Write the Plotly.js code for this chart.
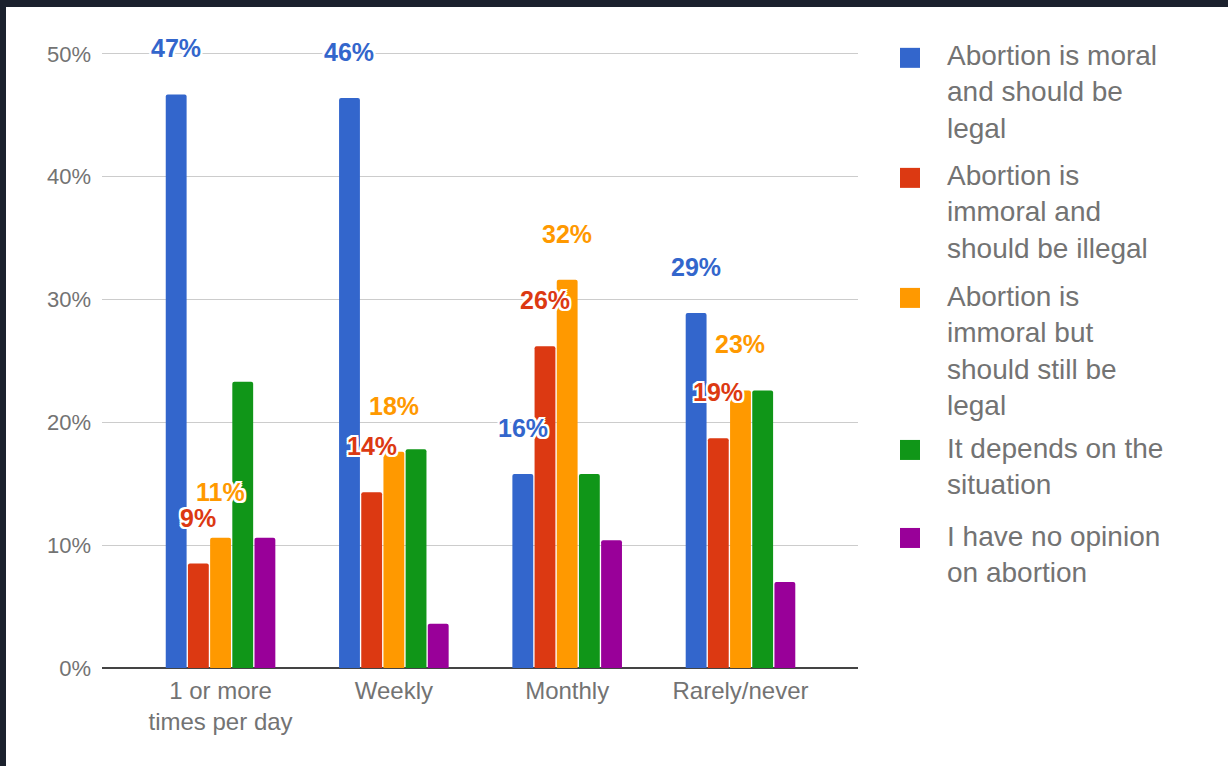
<!DOCTYPE html>
<html>
<head>
<meta charset="utf-8">
<script src="https://cdn.plot.ly/plotly-3.0.1.min.js"></script>
<style>
  html, body { margin: 0; padding: 0; background: #1b212d; width: 1228px; height: 766px; overflow: hidden; }
  #chart { position: absolute; left: 6px; top: 7px; width: 1222px; height: 759px; background: #fff; }
</style>
</head>
<body>
<div id="chart"></div>
<script>
// ---- data ----
const categories = ['1 or more<br>times per day', 'Weekly', 'Monthly', 'Rarely/never'];
const seriesNames = [
  'Abortion is moral and should be legal',
  'Abortion is immoral and should be illegal',
  'Abortion is immoral but should still be legal',
  'It depends on the situation',
  'I have no opinion on abortion'
];
const legendLines = [
  ['Abortion is moral', 'and should be', 'legal'],
  ['Abortion is', 'immoral and', 'should be illegal'],
  ['Abortion is', 'immoral but', 'should still be', 'legal'],
  ['It depends on the', 'situation'],
  ['I have no opinion', 'on abortion']
];
const moralLegal     = [46.7, 46.4, 15.8, 28.9];
const immoralIllegal = [8.5, 14.3, 26.2, 18.7];
const immoralLegal   = [10.6, 17.6, 31.6, 22.6];
const depends        = [23.3, 17.8, 15.8, 22.6];
const noOpinion      = [10.6, 3.6, 10.4, 7.0];
const seriesValues = [moralLegal, immoralIllegal, immoralLegal, depends, noOpinion];
const labelledSeries = [0, 1, 2];   // series that carry value labels
const yTickVals = [0, 10, 20, 30, 40, 50];

// ---- style ----
const colors = ['#3366cc', '#dc3912', '#ff9900', '#109618', '#990099'];
const textGrey = '#737373';
const FONT = 'Liberation Sans, Arial, sans-serif';

// plot area in page pixels: value 0 at PB, value 50 at P50
const PL = 102, PR = 858, P50 = 54, PB = 668;
const yMax = 50.15;
const PT = PB - (PB - P50) * yMax / 50;
const DIVX = 6, DIVY = 7, DIVW = 1222, DIVH = 759;
const px2paperX = p => (p - PL) / (PR - PL);
const px2paperY = p => (PB - p) / (PB - PT);

const bargap = 0.36, bargroupgap = 0.06;
const nS = seriesValues.length;
const slot = (1 - bargap) / nS;

const traces = seriesValues.map((vals, k) => ({
  type: 'bar',
  name: seriesNames[k],
  x: categories,
  y: vals,
  marker: { color: colors[k], cornerradius: 2 },
  showlegend: false,
  hoverinfo: 'skip'
}));

const annotations = [];
// value labels
labelledSeries.forEach(k => {
  seriesValues[k].forEach((v, i) => {
    annotations.push({
      x: i + (k - (nS - 1) / 2) * slot,
      y: v,
      xref: 'x', yref: 'y',
      text: Math.round(v) + '%',
      showarrow: false,
      xanchor: 'center', yanchor: 'middle',
      yshift: 46,
      font: {
        family: FONT, size: 25, color: colors[k], weight: 'bold',
        shadow: '2px 2px 0 #fff, -2px -2px 0 #fff, 2px -2px 0 #fff, -2px 2px 0 #fff, 0 2px 0 #fff, 0 -2px 0 #fff, 2px 0 0 #fff, -2px 0 0 #fff'
      }
    });
  });
});

// custom legend: one multi-line text per entry
const shapes = [];
const legendTextX = 945, legendBoxX = 910, boxHalf = 10;
const legendFont = 28, lineH = legendFont * 1.3;
const legendFirstLine = [56, 176, 296, 448, 536];   // first-line centres (px)
legendLines.forEach((lines, k) => {
  const y0 = legendFirstLine[k];
  shapes.push({
    type: 'rect', xref: 'paper', yref: 'paper',
    x0: px2paperX(legendBoxX - boxHalf), x1: px2paperX(legendBoxX + boxHalf),
    y0: px2paperY(y0 + 2 - boxHalf), y1: px2paperY(y0 + 2 + boxHalf),
    fillcolor: colors[k], line: { width: 0 }
  });
  annotations.push({
    xref: 'paper', yref: 'paper',
    x: px2paperX(legendTextX), y: px2paperY(y0 + (lines.length - 1) * lineH / 2),
    text: lines.join('<br>'), showarrow: false, xanchor: 'left', yanchor: 'middle', align: 'left',
    font: { family: FONT, size: legendFont, color: textGrey }
  });
});

const layout = {
  width: DIVW, height: DIVH,
  margin: { l: PL - DIVX, r: DIVW - (PR - DIVX), t: PT - DIVY, b: DIVH - (PB - DIVY), pad: 0 },
  paper_bgcolor: '#ffffff', plot_bgcolor: '#ffffff',
  barmode: 'group', bargap: bargap, bargroupgap: bargroupgap,
  showlegend: false,
  hovermode: false,
  font: { family: FONT, color: textGrey },
  xaxis: {
    type: 'category',
    range: [-0.684, 3.678],
    showgrid: false, zeroline: false, showline: false,
    ticks: '', tickfont: { family: FONT, size: 24, color: textGrey },
    ticklabelstandoff: 6,
    fixedrange: true
  },
  yaxis: {
    range: [0, yMax],
    tickvals: yTickVals,
    ticktext: yTickVals.map(v => v + '%'),
    showgrid: true, gridcolor: '#cccccc', gridwidth: 1,
    zeroline: true, zerolinecolor: '#444444', zerolinewidth: 2,
    showline: false, ticks: '',
    tickfont: { family: FONT, size: 22, color: textGrey },
    ticklabelstandoff: 10,
    fixedrange: true
  },
  annotations: annotations,
  shapes: shapes
};

Plotly.newPlot('chart', traces, layout, { displayModeBar: false, staticPlot: true });
</script>
</body>
</html>
